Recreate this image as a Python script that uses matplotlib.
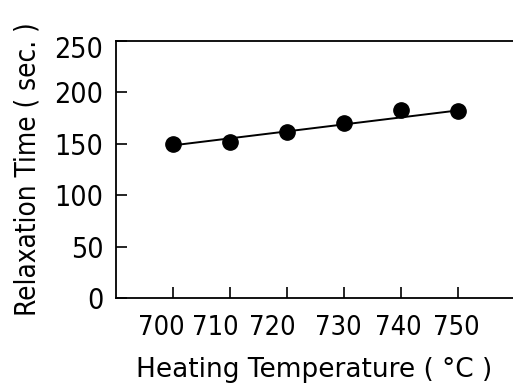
import matplotlib
matplotlib.use("Agg")
import matplotlib.pyplot as plt
from matplotlib.transforms import ScaledTranslation

temps = [700, 710, 720, 730, 740, 750]
relax = [150, 152, 161, 170.5, 183, 182]
fit_x = [700, 750]
fit_y = [148.5, 182.5]
xticks = [700, 710, 720, 730, 740, 750]
yticks = [0, 50, 100, 150, 200, 250]

plt.rcParams['font.family'] = ['DejaVu Sans']
plt.rcParams['font.stretch'] = 'condensed'

fig = plt.figure(figsize=(5.13, 3.89), dpi=100)
ax = fig.add_axes([116/513, 1-298/389, 1-116/513, (298-41)/389])
ax.plot(fit_x, fit_y, color='black', lw=1.4, zorder=2)
ax.plot(temps, relax, 'o', color='black', ms=11, zorder=3)
ax.set_xlim(690, 759.6)
ax.set_ylim(0, 250)
ax.set_xticks(xticks)
ax.set_yticks(yticks)
ax.spines['right'].set_visible(False)
for s in ['left', 'bottom', 'top']:
    ax.spines[s].set_linewidth(1.3)
ax.tick_params(axis='both', direction='in', length=8, width=1.2)
ax.tick_params(axis='y', pad=9, labelsize=20.5)
ax.tick_params(axis='x', pad=12, labelsize=19.5)

# small typeset offsets of tick labels seen in the reference (pixels)
x_dx = [-12, -15, -15, -6, -3, -2]
for tk, dx in zip(ax.xaxis.get_major_ticks(), x_dx):
    tk.label1.set_transform(tk.label1.get_transform() +
                            ScaledTranslation(dx / 100, 0, fig.dpi_scale_trans))
y_dy = [0, 0, 0, 0, 0, -6]
for tk, dy in zip(ax.yaxis.get_major_ticks(), y_dy):
    tk.label1.set_transform(tk.label1.get_transform() +
                            ScaledTranslation(0, dy / 100, fig.dpi_scale_trans))

ax.set_xlabel('Heating Temperature ( °C )', fontsize=19, fontstretch='normal', labelpad=12)
ax.set_ylabel('Relaxation Time ( sec. )', fontsize=20, labelpad=9)
fig.savefig('out.png', dpi=100)
